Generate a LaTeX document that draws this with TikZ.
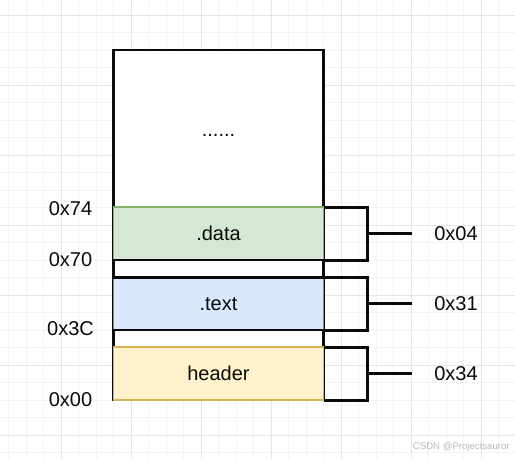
\documentclass[tikz,border=0pt]{standalone}
\usepackage{fontspec}
\setmainfont{Liberation Sans}
\definecolor{gridminor}{HTML}{F3F3F3}
\definecolor{gridmajor}{HTML}{E6E6E6}
\definecolor{datafill}{HTML}{D5E8D4}
\definecolor{dataline}{HTML}{82B366}
\definecolor{textfill}{HTML}{DAE8FC}
\definecolor{textline}{HTML}{6C8EBF}
\definecolor{headfill}{HTML}{FFF2CC}
\definecolor{headline}{HTML}{D6B656}
\definecolor{ink}{HTML}{0A0A0A}
\begin{document}
\begin{tikzpicture}[x=1pt,y=-1pt,
  lbl/.style={font=\fontsize{20}{24}\selectfont, inner sep=0pt, text=ink},
  seg/.style={outer sep=0pt, inner sep=0pt, minimum width=210pt, anchor=north west},
  plain/.style={seg, draw=ink, fill=white, line width=2.8pt},
  coloured/.style={seg, line width=1.8pt, font=\fontsize{20}{24}\selectfont, text=ink},
  brk/.style={draw=ink, line width=3pt},
  minorline/.style={draw=gridminor, line width=0.9pt},
  majorline/.style={draw=gridmajor, line width=0.9pt}]
  \useasboundingbox (0,0) rectangle (515,459);
  \fill[white] (0,0) rectangle (515,459);

  % background grid
  \foreach \k in {0,...,29} \draw[minorline] (8.5+17.5*\k,0) -- (8.5+17.5*\k,459);
  \foreach \k in {0,...,25} \draw[minorline] (0,15+17.5*\k) -- (515,15+17.5*\k);
  \foreach \k in {0,...,6} \draw[majorline] (61+70*\k,0) -- (61+70*\k,459);
  \foreach \k in {0,...,6} \draw[majorline] (0,15+70*\k) -- (515,15+70*\k);

  % memory image
  \node[plain, minimum height=350pt] (mem) at (113.5,50) {};
  \node[lbl, anchor=base] (dots) at (218.5,136) {......};
  \node[coloured, draw=dataline, fill=datafill, minimum height=53pt] (data) at (113.5,207) {.data};
  \node[coloured, draw=textline, fill=textfill, minimum height=52.5pt] (text) at (113.5,277.5) {.text};
  \node[plain, minimum height=17.5pt] (gapa) at (113.5,260) {};
  \node[plain, minimum height=17pt] (gapb) at (113.5,330) {};
  \node[coloured, draw=headline, fill=headfill, minimum height=53pt] (header) at (113.5,347) {header};

  % addresses
  \node[lbl] (a74) at (70.5,208.7) {0x74};
  \node[lbl] (a70) at (70.5,259.5) {0x70};
  \node[lbl] (a3c) at (70.5,328.7) {0x3C};
  \node[lbl] (a00) at (70.5,399.7) {0x00};

  % section sizes
  \coordinate (b1) at (367.5,233.5);
  \coordinate (b2) at (367.5,303.5);
  \coordinate (b3) at (367.5,373.5);
  \coordinate (e1) at (411.5,233.5);
  \coordinate (e2) at (411.5,303.5);
  \coordinate (e3) at (411.5,373.5);
  \draw[brk] (data.north east) -| (b1) |- (data.south east);
  \draw[brk] (text.north east) -| (b2) |- (text.south east);
  \draw[brk] (header.north east) -| (b3) |- (header.south east);
  \draw[brk] (b1) -- (e1);
  \draw[brk] (b2) -- (e2);
  \draw[brk] (b3) -- (e3);
  \node[lbl] (s1) at (456,234) {0x04};
  \node[lbl] (s2) at (456,303.5) {0x31};
  \node[lbl] (s3) at (456,374) {0x34};

  \node[font=\fontsize{9.6}{11}\selectfont, text=gray!55, inner sep=0pt] (mark) at (461.3,447.3) {CSDN @Projectsauror};
\end{tikzpicture}
\end{document}
